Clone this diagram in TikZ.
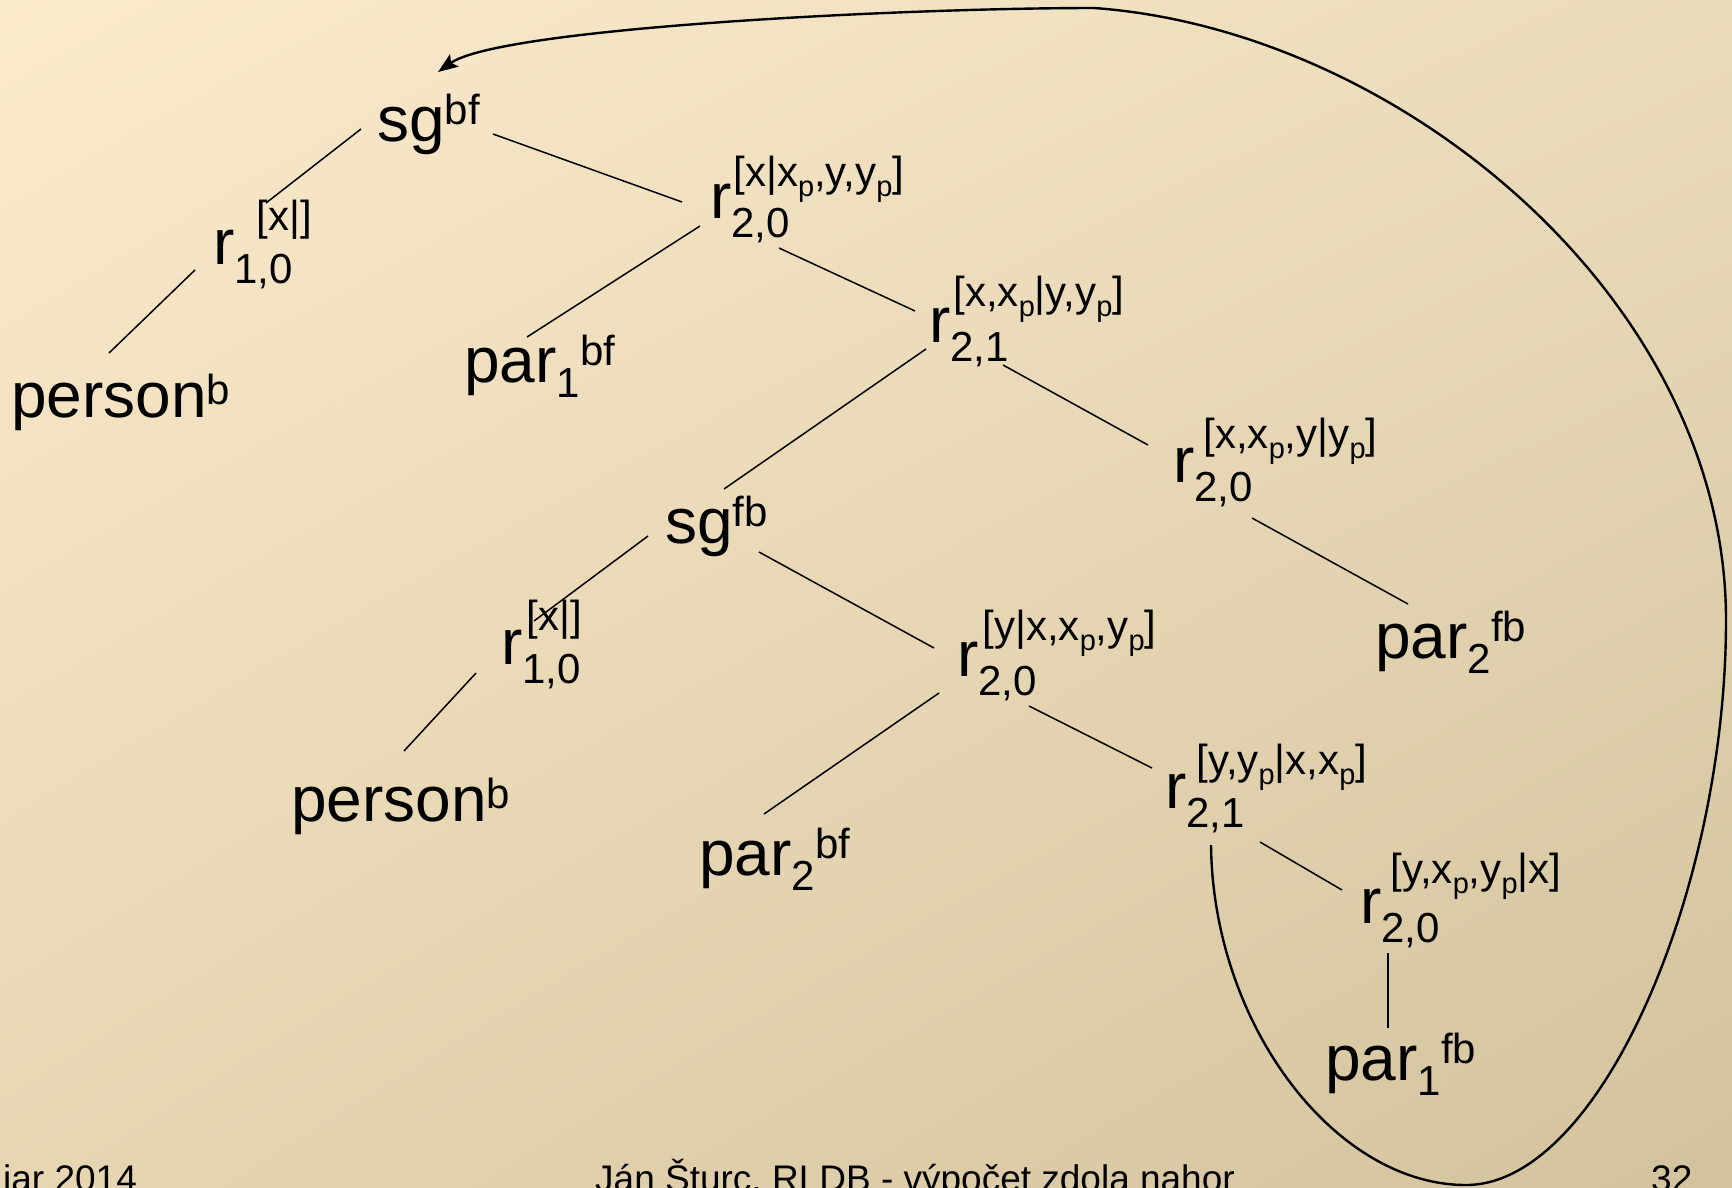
\documentclass[tikz,border=0pt]{standalone}
\usepackage{fontspec}
\setmainfont{Liberation Sans}
\usetikzlibrary{arrows.meta,shadings}

% type sizes: main symbol, index, index of an index
\newcommand\mainsz{\fontsize{64}{72}\selectfont}
\newcommand\supsz{\fontsize{42}{47}\selectfont}
\newcommand\subsubsz{\fontsize{29}{32}\selectfont}
\newcommand\ix{\raisebox{-10pt}{\subsubsz p}}
% rule node: r with stacked subscript (#3) and superscript (#4);
% #1 = extra gap before the superscript, #2 = lift of the superscript
\newcommand\rel[4]{r\rlap{\raisebox{-19pt}{\supsz #3}}\hspace{#1}\raisebox{#2}{\supsz #4}}
% predicate node: name, subscript, superscript in a row; #4 = lift of the superscript
\newcommand\pred[4]{#1\raisebox{-15pt}{\supsz #2}\raisebox{#4}{\supsz #3}}

\definecolor{bgUL}{RGB}{251,235,205}
\definecolor{bgUR}{RGB}{234,219,186}
\definecolor{bgLL}{RGB}{231,214,178}
\definecolor{bgLR}{RGB}{210,194,157}

\tikzset{
  lbl/.style={inner sep=0pt, anchor=base west, font=\mainsz, text=black},
  foot/.style={inner sep=0pt, font=\fontsize{37}{42}\selectfont, text=black},
  edge/.style={line width=1.5pt, black},
  loopline/.style={line width=2.4pt, black, -{Stealth[length=20pt,width=15pt,inset=4pt]}},
}

\begin{document}
\begin{tikzpicture}[x=1pt, y=-1pt]
  \useasboundingbox (0,0) rectangle (1732,1187);
  \shade[upper left=bgUL, upper right=bgUR, lower left=bgLL, lower right=bgLR]
    (0,0) rectangle (1732,1187);
  \clip (0,0) rectangle (1732,1187);

  % nodes of the rule/goal graph
  \node[lbl] (sgbf)     at (377,141)  {\pred{sg}{}{bf}{17pt}};
  \node[lbl] (ra)       at (213,264)  {\rel{22pt}{34pt}{1,0}{[x|]}};
  \node[lbl] (persona)  at (11,417)   {\pred{person}{}{b}{13pt}};
  \node[lbl] (paroneb)  at (464,382)  {\pred{par}{1}{bf}{17pt}};
  \node[lbl] (rb)       at (710,218)  {\rel{2pt}{32pt}{2,0}{[x|x\ix,y,y\ix]}};
  \node[lbl] (rc)       at (929,342)  {\rel{3pt}{36pt}{2,1}{[x,x\ix|y,y\ix]}};
  \node[lbl] (rd)       at (1173,482) {\rel{9pt}{34pt}{2,0}{[x,x\ix,y|y\ix]}};
  \node[lbl] (sgfb)     at (665,543)  {\pred{sg}{}{fb}{17pt}};
  \node[lbl] (re)       at (501,664)  {\rel{4pt}{34pt}{1,0}{[x|]}};
  \node[lbl] (personb)  at (291,821)  {\pred{person}{}{b}{13pt}};
  \node[lbl] (rf)       at (957,676)  {\rel{4pt}{36pt}{2,0}{[y|x,x\ix,y\ix]}};
  \node[lbl] (partwofb) at (1375,658) {\pred{par}{2}{fb}{17pt}};
  \node[lbl] (partwobf) at (699,875)  {\pred{par}{2}{bf}{17pt}};
  \node[lbl] (rg)       at (1165,808) {\rel{10pt}{34pt}{2,1}{[y,y\ix|x,x\ix]}};
  \node[lbl] (rh)       at (1360,923) {\rel{9pt}{40pt}{2,0}{[y,x\ix,y\ix|x]}};
  \node[lbl] (paronefb) at (1325,1080){\pred{par}{1}{fb}{17pt}};

  % tree edges
  \draw[edge] ([shift={(-16,-12)}]sgbf.base west) -- ([shift={(53,-61)}]ra.base west);
  \draw[edge] ([shift={(-18,6)}]ra.base west) -- ([shift={(98,-64)}]persona.base west);
  \draw[edge] ([shift={(116,-7)}]sgbf.base west) -- ([shift={(-28,-16)}]rb.base west);
  \draw[edge] ([shift={(-10,8)}]rb.base west) -- ([shift={(63,-45)}]paroneb.base west);
  \draw[edge] ([shift={(69,30)}]rb.base west) -- ([shift={(-14,-31)}]rc.base west);
  \draw[edge] ([shift={(-3,7)}]rc.base west) -- ([shift={(59,-54)}]sgfb.base west);
  \draw[edge] ([shift={(74,23)}]rc.base west) -- ([shift={(-25,-37)}]rd.base west);
  \draw[edge] ([shift={(79,36)}]rd.base west) -- ([shift={(33,-54)}]partwofb.base west);
  \draw[edge] ([shift={(-17,-7)}]sgfb.base west) -- ([shift={(33,-43)}]re.base west);
  \draw[edge] ([shift={(94,9)}]sgfb.base west) -- ([shift={(-23,-28)}]rf.base west);
  \draw[edge] ([shift={(-25,9)}]re.base west) -- ([shift={(113,-70)}]personb.base west);
  \draw[edge] ([shift={(-18,17)}]rf.base west) -- ([shift={(65,-61)}]partwobf.base west);
  \draw[edge] ([shift={(72,30)}]rf.base west) -- ([shift={(-13,-40)}]rg.base west);
  \draw[edge] ([shift={(95,34)}]rg.base west) -- ([shift={(-18,-33)}]rh.base west);
  \draw[edge] ([shift={(28,30)}]rh.base west) -- ([shift={(63,-52)}]paronefb.base west);

  % recursive call back to the top goal
  \coordinate (loopbot)   at (1466,1185);
  \coordinate (loopright) at (1726,620);
  \coordinate (looptop)   at (1094,8);
  \draw[loopline] ([shift={(46,37)}]rg.base west)
      .. controls +(2,180) and (1335,1185) .. (loopbot)
      .. controls (1600,1185) and (1726,890) .. (loopright)
      .. controls (1726,300) and (1400,30) .. (looptop)
      .. controls (900,8) and (500,28) .. ([shift={(61,-69)}]sgbf.base west);

  % footer
  \node[foot, anchor=base west] (fdate)  at (3,1191)    {iar 2014};
  \node[foot, anchor=base]      (ftitle) at (915,1191)  {Ján Šturc, RLDB - výpočet zdola nahor};
  \node[foot, anchor=base west] (fpage)  at (1651,1191) {32};
\end{tikzpicture}
\end{document}
